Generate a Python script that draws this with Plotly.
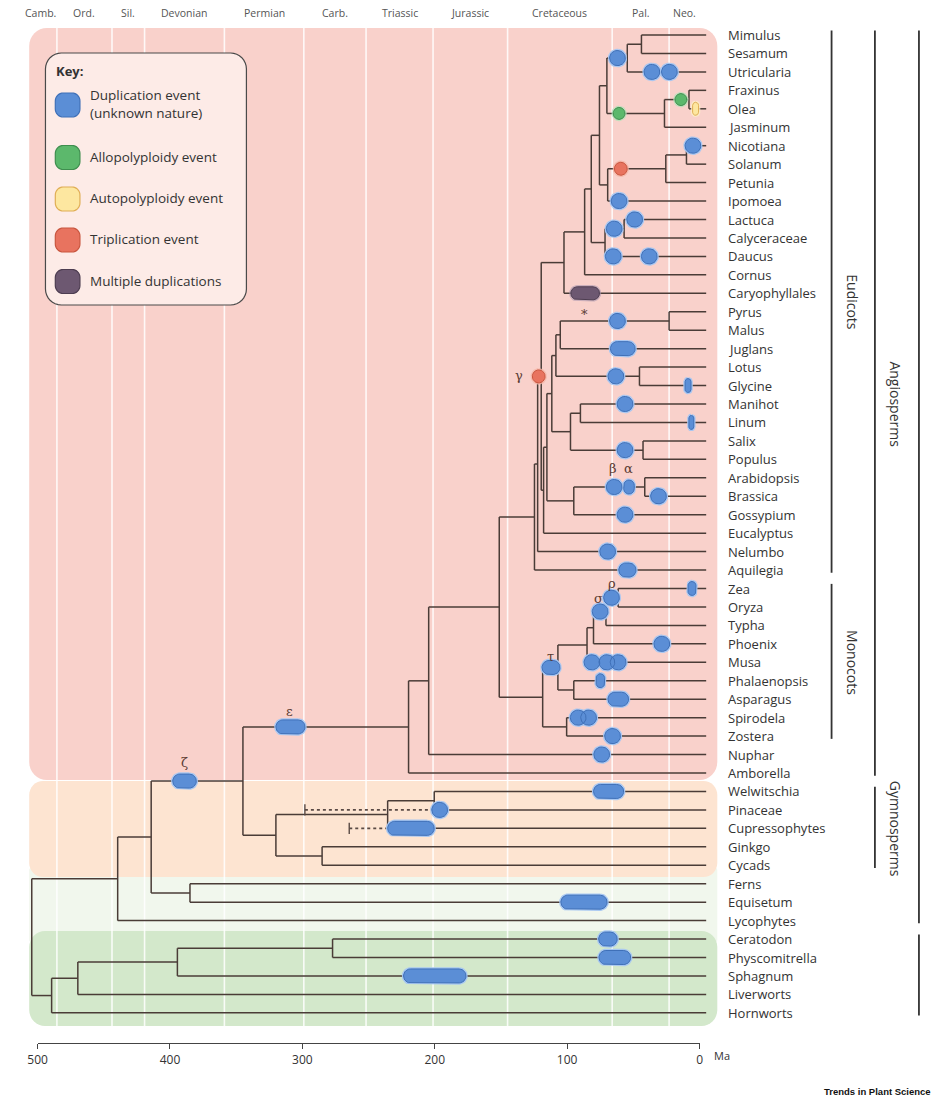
import math
import plotly.graph_objects as go

# ---------------- data ----------------
leaves = ["Mimulus", "Sesamum", "Utricularia", "Fraxinus", "Olea", "Jasminum",
          "Nicotiana", "Solanum", "Petunia", "Ipomoea", "Lactuca", "Calyceraceae",
          "Daucus", "Cornus", "Caryophyllales", "Pyrus", "Malus", "Juglans", "Lotus",
          "Glycine", "Manihot", "Linum", "Salix", "Populus", "Arabidopsis", "Brassica",
          "Gossypium", "Eucalyptus", "Nelumbo", "Aquilegia", "Zea", "Oryza", "Typha",
          "Phoenix", "Musa", "Phalaenopsis", "Asparagus", "Spirodela", "Zostera",
          "Nuphar", "Amborella", "Welwitschia", "Pinaceae", "Cupressophytes", "Ginkgo",
          "Cycads", "Ferns", "Equisetum", "Lycophytes", "Ceratodon", "Physcomitrella",
          "Sphagnum", "Liverworts", "Hornworts"]

# internal nodes (children listed before parents), ages in Ma
node_names = ["A", "B", "D1", "D2", "C", "E1", "E2", "E3", "F", "G1", "G2", "H", "I", "J",
              "PM", "L", "LG", "M", "ML", "SP", "O", "N", "AB", "Q", "P", "R", "K", "S", "T",
              "ZO", "PO", "CO", "CM", "PA", "MA", "SZ", "MO", "V", "U", "W",
              "WP", "Z", "GC", "Y", "X", "FE", "AA", "BB", "GG", "FF", "EE", "DD", "CC"]
node_ages = [43.9, 54.6, 8.0, 26.5, 70.0, 9.9, 25.5, 69.4, 75.6, 57.0, 71.4, 81.8, 86.8, 102.4,
             23.0, 105.2, 45.4, 108.5, 90.0, 42.7, 97.5, 111.6, 41.4, 95.0, 115.3, 117.8, 119.6,
             122.3, 124.7,
             61.5, 70.7, 80.1, 85.0, 95.0, 107.0, 100.4, 118.5, 151.3, 204.6, 219.8,
             200.4, 235.6, 285.1, 320.0, 344.9, 384.9, 414.2, 439.5, 277.2, 394.4, 469.6,
             489.4, 504.4]
node_children = [["Mimulus", "Sesamum"], ["A", "Utricularia"], ["Fraxinus", "Olea"],
                 ["D1", "Jasminum"], ["B", "D2"], ["Nicotiana", "Solanum"], ["E1", "Petunia"],
                 ["E2", "Ipomoea"], ["C", "E3"], ["Lactuca", "Calyceraceae"], ["G1", "Daucus"],
                 ["F", "G2"], ["H", "Cornus"], ["I", "Caryophyllales"],
                 ["Pyrus", "Malus"], ["PM", "Juglans"], ["Lotus", "Glycine"], ["L", "LG"],
                 ["Manihot", "Linum"], ["Salix", "Populus"], ["ML", "SP"], ["M", "O"],
                 ["Arabidopsis", "Brassica"], ["AB", "Gossypium"], ["N", "Q"],
                 ["P", "Eucalyptus"], ["J", "R"], ["K", "Nelumbo"], ["S", "Aquilegia"],
                 ["Zea", "Oryza"], ["ZO", "Typha"], ["PO", "Phoenix"], ["CO", "Musa"],
                 ["Phalaenopsis", "Asparagus"], ["CM", "PA"], ["Spirodela", "Zostera"],
                 ["MA", "SZ"], ["T", "MO"], ["V", "Nuphar"], ["U", "Amborella"],
                 ["Welwitschia", "Pinaceae"], ["WP", "Cupressophytes"], ["Ginkgo", "Cycads"],
                 ["Z", "GC"], ["W", "Y"], ["Ferns", "Equisetum"], ["X", "FE"],
                 ["AA", "Lycophytes"], ["Ceratodon", "Physcomitrella"], ["GG", "Sphagnum"],
                 ["FF", "Liverworts"], ["EE", "Hornworts"], ["BB", "DD"]]

# duplication events: branch they sit on, centre age (Ma), duration (Ma, 0 = point), type
event_branch = ["B", "Utricularia", "Utricularia", "D2", "D1", "Olea", "E2", "Nicotiana",
                "Ipomoea", "Lactuca", "G1", "Daucus", "Daucus", "Caryophyllales", "PM",
                "Juglans", "LG", "Glycine", "Manihot", "Linum", "SP", "AB", "AB", "Brassica",
                "Gossypium", "K", "Nelumbo", "Aquilegia", "ZO", "Zea", "PO", "Phoenix",
                "Musa", "Musa", "Musa", "MA", "Phalaenopsis", "Asparagus", "Spirodela",
                "Spirodela", "Zostera", "Nuphar", "W", "X", "Welwitschia", "Pinaceae",
                "Cupressophytes", "Equisetum", "Ceratodon", "Physcomitrella", "Sphagnum"]
event_age = [62.0, 36.0, 22.8, 60.8, 14.1, 3.0, 59.5, 5.0,
             60.8, 49.0, 64.5, 65.2, 38.0, 86.4, 62.0,
             58.0, 63.2, 8.7, 56.3, 6.2, 56.3, 64.5, 53.3, 31.0,
             56.3, 121.5, 69.4, 54.5, 66.5, 5.7, 75.1, 28.5,
             81.3, 70.0, 61.5, 112.2, 74.9, 61.4, 91.7,
             83.8, 65.7, 73.9, 309.0, 389.0, 68.7, 196.3,
             218.0, 87.3, 69.2, 64.0, 200.0]
event_span = [0, 0, 0, 0, 0, 4.5, 0, 0,
              0, 0, 0, 0, 0, 21.6, 0,
              18.7, 0, 4.5, 0, 3.7, 0, 0, 8.0, 0,
              0, 0, 0, 13.0, 0, 6.0, 0, 0,
              0, 0, 0, 13.6, 6.5, 15.6, 0,
              0, 0, 0, 22.0, 17.8, 22.8, 0,
              35.2, 34.9, 14.0, 24.0, 47.2]
event_kind = ["dup", "dup", "dup", "allo", "allo", "auto", "tri", "dup",
              "dup", "dup", "dup", "dup", "dup", "multi", "dup",
              "dup", "dup", "dup", "dup", "dup", "dup", "dup", "dup", "dup",
              "dup", "tri", "dup", "dup", "dup", "dup", "dup", "dup",
              "dup", "dup", "dup", "dup", "dup", "dup", "dup",
              "dup", "dup", "dup", "dup", "dup", "dup", "dup",
              "dup", "dup", "dup", "dup", "dup"]

# extinct-lineage (dashed) ranges: leaf, oldest age, joins at age
dashed_leaf = ["Pinaceae", "Cupressophytes"]
dashed_from = [298.1, 264.6]
dashed_to = [200.4, 235.6]

# geological periods (as labelled in the figure)
period_names = ["Camb.", "Ord.", "Sil.", "Devonian", "Permian", "Carb.", "Triassic",
                "Jurassic", "Cretaceous", "Pal.", "Neo."]
period_start = [541.0, 485.4, 443.8, 419.2, 358.9, 298.9, 251.9, 201.3, 145.0, 66.0, 23.0]
period_end = [485.4, 443.8, 419.2, 358.9, 298.9, 251.9, 201.3, 145.0, 66.0, 23.0, 0.0]

# clade brackets
group_names = ["Eudicots", "Monocots", "Angiosperms", "Gymnosperms", "Tracheophytes", "Bryophytes"]
group_first = ["Mimulus", "Zea", "Mimulus", "Welwitschia", "Mimulus", "Ceratodon"]
group_last = ["Aquilegia", "Zostera", "Amborella", "Cycads", "Lycophytes", "Hornworts"]
group_level = [0, 0, 1, 1, 2, 2]

scale_ticks = [500, 400, 300, 200, 100, 0]

key_labels = ["Duplication event<br>(unknown nature)", "Allopolyploidy event",
              "Autopolyploidy event", "Triplication event", "Multiple duplications"]
key_kinds = ["dup", "allo", "auto", "tri", "multi"]

# ---------------- geometry (pixel <-> data) ----------------
W_FIG, H_FIG = 939, 1097
X0, PXMA = 700.0, 1.344      # pixel of 0 Ma, pixels per Ma
Y0, PXROW = 35.0, 18.45      # pixel of first leaf row, pixels per row
TIP = -5.0                   # leaf lines run slightly past 0 Ma


def xm(px):
    return (X0 - px) / PXMA


def yr(py):
    return (py - Y0) / PXROW


def px_of(ma):
    return X0 - ma * PXMA


def py_of(r):
    return Y0 + r * PXROW


row = {n: i for i, n in enumerate(leaves)}
age = {n: 0.0 for n in leaves}
for n, a, ch in zip(node_names, node_ages, node_children):
    age[n] = a
    row[n] = sum(row[c] for c in ch) / len(ch)

leafset = set(leaves)

# ---------------- colours / styles ----------------
BRANCH = "#4a3c37"
FILL = {"dup": "#5b8ed6", "allo": "#5cb86c", "auto": "#fde7a0", "tri": "#e8735f", "multi": "#6d5871"}
EDGE = {"dup": "#3f70b8", "allo": "#3f8e4f", "auto": "#e0ae55", "tri": "#c9563f", "multi": "#4d3d51"}
HALO = {"dup": "rgba(165,198,242,0.95)", "allo": "rgba(180,225,185,0.8)",
        "auto": "rgba(253,240,200,0.8)", "tri": "rgba(245,180,165,0.8)",
        "multi": "rgba(170,150,175,0.6)"}
POINT_SIZE = {"dup": (16, 15), "allo": (12, 12), "auto": (6, 13), "tri": (13, 13), "multi": (29, 13)}
PILL_H = {"dup": 14, "allo": 12, "auto": 13, "tri": 13, "multi": 13}


def rounded_pts(x0, y0, x1, y1, r, n=8):
    r = min(r, (x1 - x0) / 2, (y1 - y0) / 2)
    corners = [(x1 - r, y0 + r, -90), (x1 - r, y1 - r, 0), (x0 + r, y1 - r, 90), (x0 + r, y0 + r, 180)]
    pts = []
    for cx, cy, a0 in corners:
        for k in range(n + 1):
            t = math.radians(a0 + 90.0 * k / n)
            pts.append((cx + r * math.cos(t), cy + r * math.sin(t)))
    pts.append(pts[0])
    return pts


def path_data(pts):
    return "M" + " L".join(f"{xm(px):.4f},{yr(py):.4f}" for px, py in pts) + " Z"


fig = go.Figure()
shapes = []
annotations = []

# ---------------- background panels ----------------
BX0, BX1 = 19.5, 718.0
shapes.append(dict(type="path", xref="x", yref="y", layer="below", line=dict(width=0),
                   fillcolor="#f1f7ed", path=path_data(rounded_pts(BX0, 868, BX1, 942, 2))))
panels = [(28, 780, "#f9d1cb", 18), (781, 877, "#fde4d1", 14), (931, 1026, "#d3e8cb", 16)]
for y0, y1, col, r in panels:
    shapes.append(dict(type="path", xref="x", yref="y", layer="below", line=dict(width=0),
                       fillcolor=col, path=path_data(rounded_pts(BX0, y0, BX1, y1, r))))

# period boundary lines
for b in period_start[1:]:
    shapes.append(dict(type="line", xref="x", yref="y", layer="below",
                       x0=b, x1=b, y0=yr(28), y1=yr(1026),
                       line=dict(color="rgba(255,255,255,0.85)", width=1.6)))

# period labels
for nm, s, e in zip(period_names, period_start, period_end):
    s_vis = min(s, 510.0)
    annotations.append(dict(x=(s_vis + e) / 2, y=yr(13), xref="x", yref="y", text=nm,
                            showarrow=False, font=dict(family="Open Sans", size=10.5, color="#555555")))

# ---------------- key ----------------
shapes.append(dict(type="path", xref="x", yref="y", layer="below",
                   line=dict(color="#4a4a4a", width=1.2), fillcolor="#fdebe7",
                   path=path_data(rounded_pts(36, 53, 240, 305, 16))))
annotations.append(dict(x=xm(45), y=yr(71), xref="x", yref="y", text="<b>Key:</b>",
                        showarrow=False, xanchor="left",
                        font=dict(family="Open Sans", size=13, color="#333333")))
key_y = [105, 157.5, 199, 240, 281.5]
for lab, kd, ky in zip(key_labels, key_kinds, key_y):
    shapes.append(dict(type="path", xref="x", yref="y", layer="below",
                       line=dict(color=EDGE[kd], width=1.2), fillcolor=FILL[kd],
                       path=path_data(rounded_pts(46, ky - 12, 71, ky + 12, 8))))
    annotations.append(dict(x=xm(79), y=yr(ky - 1), xref="x", yref="y", text=lab,
                            showarrow=False, xanchor="left", align="left",
                            font=dict(family="Open Sans", size=13.5, color="#333333")))

# ---------------- tree branches ----------------
bx, by = [], []
for n, a, ch in zip(node_names, node_ages, node_children):
    rs = [row[c] for c in ch]
    bx += [a, a, None]
    by += [min(rs), max(rs), None]
    for c in ch:
        end = TIP if c in leafset else age[c]
        bx += [a, end, None]
        by += [row[c], row[c], None]
fig.add_trace(go.Scatter(x=bx, y=by, mode="lines", line=dict(color=BRANCH, width=1.5),
                         hoverinfo="skip", showlegend=False))

# dashed extinct-lineage ranges
dx, dy, tx, ty = [], [], [], []
for lf, a0, a1 in zip(dashed_leaf, dashed_from, dashed_to):
    dx += [a0, a1, None]
    dy += [row[lf], row[lf], None]
    tx += [a0, a0, None]
    ty += [row[lf] - 0.3, row[lf] + 0.3, None]
fig.add_trace(go.Scatter(x=dx, y=dy, mode="lines", line=dict(color="#5a4a45", width=1.6, dash="3px,3px"),
                         hoverinfo="skip", showlegend=False))
fig.add_trace(go.Scatter(x=tx, y=ty, mode="lines", line=dict(color="#5a4a45", width=1.4),
                         hoverinfo="skip", showlegend=False))

# ---------------- events ----------------
polys = {k: ([], []) for k in FILL}
for br, a, sp, kd in zip(event_branch, event_age, event_span, event_kind):
    cx, cy = px_of(a), py_of(row[br])
    if sp > 0:
        w, h = sp * PXMA, PILL_H[kd]
    else:
        w, h = POINT_SIZE[kd]
    pts = rounded_pts(cx - w / 2, cy - h / 2, cx + w / 2, cy + h / 2, min(w, h) / 2, n=10)
    xs, ys = polys[kd]
    xs += [xm(p[0]) for p in pts] + [None]
    ys += [yr(p[1]) for p in pts] + [None]
for kd, (xs, ys) in polys.items():
    if xs:
        fig.add_trace(go.Scatter(x=xs, y=ys, mode="lines", line=dict(color=HALO[kd], width=3.5),
                                 hoverinfo="skip", showlegend=False))
for kd, (xs, ys) in polys.items():
    if xs:
        fig.add_trace(go.Scatter(x=xs, y=ys, mode="lines", fill="toself", fillcolor=FILL[kd],
                                 line=dict(color=EDGE[kd], width=1.0), hoverinfo="skip",
                                 showlegend=False))

# greek labels for named events
greek = [("γ", 517, 375), ("ε", 284, 711), ("ζ", 177, 762), ("τ", 549, 656), ("σ", 597, 598),
         ("ρ", 611, 583), ("β", 612, 468), ("α", 628, 468), ("*", 583, 314)]
for t, gx, gy in greek:
    annotations.append(dict(x=xm(gx), y=yr(gy), xref="x", yref="y", text=t, showarrow=False,
                            font=dict(family="DejaVu Serif", size=13, color="#5b3b33")))

# ---------------- leaf labels ----------------
for lf in leaves:
    annotations.append(dict(x=xm(727), y=row[lf], xref="x", yref="y", text=lf, showarrow=False,
                            xanchor="left", font=dict(family="Open Sans", size=13, color="#333333")))

# ---------------- clade brackets ----------------
LEVEL_X = [834, 878, 922.7]
LEVEL_TX = [855, 899, 943]
for nm, f, l, lv in zip(group_names, group_first, group_last, group_level):
    r0, r1 = row[f] - 0.25, row[l] + 0.15
    shapes.append(dict(type="line", xref="x", yref="y", x0=xm(LEVEL_X[lv]), x1=xm(LEVEL_X[lv]),
                       y0=r0, y1=r1, line=dict(color="#333333", width=1.8)))
    annotations.append(dict(x=xm(LEVEL_TX[lv]), y=(row[f] + row[l]) / 2, xref="x", yref="y",
                            text=nm, textangle=90, showarrow=False,
                            font=dict(family="Open Sans", size=14, color="#333333")))

# ---------------- time scale ----------------
fig.add_trace(go.Scatter(x=[scale_ticks[0], scale_ticks[-1]], y=[None, None], xaxis="x2", yaxis="y",
                         mode="markers", hoverinfo="skip", showlegend=False))
annotations.append(dict(x=xm(713), y=yr(1055), xref="x", yref="y", text="Ma", showarrow=False,
                        xanchor="left", font=dict(family="Open Sans", size=11, color="#333333")))
annotations.append(dict(x=xm(937), y=yr(1091), xref="x", yref="y", text="<b>Trends in Plant Science</b>",
                        showarrow=False, xanchor="right",
                        font=dict(family="Liberation Sans Narrow, Liberation Sans", size=9.5,
                                  color="#111111")))

fig.update_layout(
    width=W_FIG, height=H_FIG, autosize=False,
    margin=dict(l=0, r=0, t=0, b=0, pad=0),
    paper_bgcolor="white", plot_bgcolor="rgba(0,0,0,0)",
    showlegend=False,
    xaxis=dict(range=[xm(0), xm(W_FIG)], visible=False, fixedrange=True),
    yaxis=dict(range=[yr(H_FIG), yr(0)], visible=False, fixedrange=True),
    xaxis2=dict(domain=[px_of(scale_ticks[0]) / W_FIG, px_of(scale_ticks[-1]) / W_FIG],
                range=[scale_ticks[0], scale_ticks[-1]], anchor="free",
                position=1 - 1043 / H_FIG, showline=True, linecolor="#444444", linewidth=1.2,
                ticks="outside", ticklen=5, tickcolor="#444444", tickwidth=1.2,
                tickvals=scale_ticks, ticktext=[str(t) for t in scale_ticks],
                tickfont=dict(family="Open Sans", size=12, color="#333333"),
                showgrid=False, zeroline=False, fixedrange=True),
    shapes=shapes,
    annotations=annotations,
)

fig.write_html("out.html", include_plotlyjs=True, full_html=True,
               config={"displayModeBar": False, "responsive": False},
               post_script=("document.body.style.margin='0';document.body.style.overflow='hidden';"
                            "var gd=document.getElementById('{plot_id}');"
                            "Plotly.relayout(gd,{width:939,height:1097,autosize:false});"))
